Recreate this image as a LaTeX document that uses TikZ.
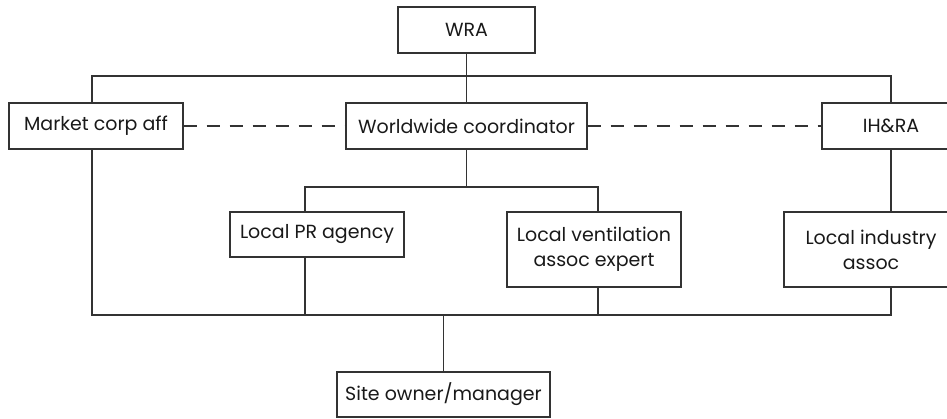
\documentclass[tikz,border=0pt]{standalone}
\usepackage{fontspec}
\setmainfont{Poppins}
\begin{document}
\begin{tikzpicture}[x=1pt, y=-1pt,
    box/.style={draw, line width=1.1pt, color=black!80, text=black!90, inner sep=0pt,
        align=center, font=\fontsize{19}{25}\selectfont},
    link/.style={line width=1.1pt, color=black!80},
    dashlink/.style={link, dash pattern=on 13pt off 10pt}]
    % page frame, the right hand boxes run off the edge
    \path[use as bounding box, clip] (0,0) rectangle (947,418);
    % boxes
    \node[box, minimum width=137pt, minimum height=46pt] (wra) at (466.5,30) {WRA};
    \node[box, minimum width=174pt, minimum height=46pt] (mca) at (96,126) {Market corp aff};
    \node[box, minimum width=241pt, minimum height=46pt] (wwc) at (466.5,126) {Worldwide coordinator};
    \node[box, minimum width=138pt, minimum height=46pt] (ihra) at (891,126) {IH\&RA};
    \node[box, minimum width=174pt, minimum height=45pt] (lpr) at (317,234.5) {Local PR agency};
    \node[box, minimum width=174pt, minimum height=75pt] (lve) at (594,249.5) {Local ventilation\\assoc expert};
    \node[box, minimum width=174pt, minimum height=75pt] (lia) at (871,249.5) {Local industry\\assoc};
    \node[box, minimum width=213pt, minimum height=45pt] (som) at (443.5,394.5) {Site owner/manager};
    % bus corners
    \coordinate (topl) at (92,76);
    \coordinate (topr) at (891,76);
    \coordinate (midl) at (305,187);
    \coordinate (midr) at (598,187);
    \coordinate (botl) at (92,315);
    \coordinate (botr) at (891,315);
    % top level
    \draw[link] (wra) -- (wwc);
    \draw[link] (mca.north -| topl) -- (topl) -- (topr) -- (ihra.north);
    % coordinator to local partners
    \draw[link] (wwc.south) -- (wwc.south |- midl);
    \draw[link] (lpr.north -| midl) -- (midl) -- (midr) -- (lve.north -| midr);
    \draw[link] (ihra.south) -- (lia.north -| ihra.south);
    % everyone down to the site
    \draw[link] (mca.south -| botl) -- (botl) -- (botr) -- (lia.south -| botr);
    \draw[link] (lpr.south -| midl) -- (midl |- botl);
    \draw[link] (lve.south -| midr) -- (midr |- botl);
    \draw[link] (som.north) -- (som.north |- botl);
    % dashed links between the three heads
    \draw[dashlink] (mca) -- (wwc);
    \draw[dashlink] (wwc) -- (ihra);
\end{tikzpicture}
\end{document}
